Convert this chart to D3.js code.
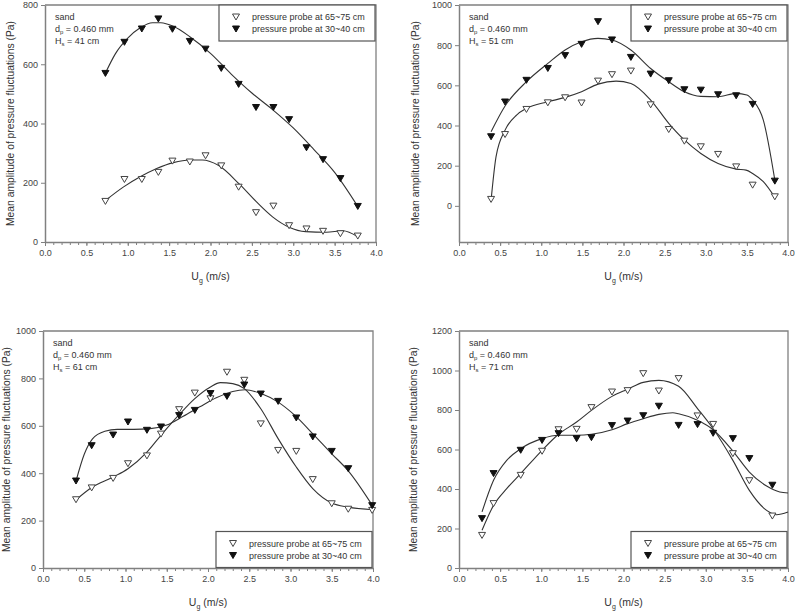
<!DOCTYPE html>
<html>
<head>
<meta charset="UTF-8">
<script src="https://d3js.org/d3.v7.min.js"></script>
<style>
    body { margin: 0; background: #fff; }
    svg { display: block; font-family: Arial, "Liberation Sans", sans-serif; }
</style>
</head>
<body>
<svg id="chart" width="799" height="611"></svg>
<script>
    // Hs = 41 cm
    const ug41 = [0.73, 0.96, 1.17, 1.37, 1.54, 1.75, 1.94, 2.13, 2.34, 2.55, 2.76, 2.95, 3.16, 3.36, 3.57, 3.78];
    const upper41 = [137, 211, 211, 235, 273, 270, 291, 257, 185, 99, 121, 55, 44, 36, 28, 20];
    const lower41 = [569, 674, 719, 753, 718, 677, 651, 586, 532, 454, 454, 413, 318, 278, 214, 120];
    const fitUpper41X = [0.73, 0.95, 1.15, 1.35, 1.55, 1.75, 1.9, 2.1, 2.35, 2.55, 2.75, 2.95, 3.15, 3.4, 3.6, 3.78];
    const fitUpper41Y = [140, 186, 220, 248, 268, 277, 277, 258, 195, 137, 85, 50, 35, 33, 38, 18];
    const fitLower41X = [0.73, 0.85, 1.0, 1.15, 1.3, 1.4, 1.55, 1.75, 2.0, 2.25, 2.5, 2.75, 3.0, 3.25, 3.5, 3.78];
    const fitLower41Y = [570, 635, 688, 723, 740, 740, 728, 693, 637, 567, 503, 447, 385, 312, 235, 120];

    // Hs = 51 cm
    const ug51 = [0.39, 0.56, 0.82, 1.08, 1.29, 1.49, 1.69, 1.86, 2.09, 2.33, 2.55, 2.74, 2.94, 3.15, 3.37, 3.57, 3.84];
    const upper51 = [32, 355, 480, 513, 538, 512, 621, 653, 671, 503, 380, 322, 294, 256, 194, 103, 45];
    const lower51 = [344, 517, 625, 684, 748, 804, 917, 826, 739, 656, 623, 578, 576, 553, 548, 505, 123];
    const fitUpper51X = [0.39, 0.45, 0.56, 0.7, 0.82, 1.08, 1.29, 1.49, 1.69, 1.91, 2.09, 2.33, 2.55, 2.74, 2.94, 3.15, 3.37, 3.49, 3.57, 3.7, 3.84];
    const fitUpper51Y = [28, 244, 377, 452, 485, 518, 540, 568, 606, 621, 609, 527, 411, 328, 261, 211, 183, 178, 161, 120, 42];
    const fitLower51X = [0.39, 0.56, 0.82, 1.08, 1.29, 1.49, 1.69, 1.86, 2.09, 2.33, 2.55, 2.74, 2.94, 3.15, 3.37, 3.5, 3.57, 3.7, 3.84];
    const fitLower51Y = [369, 497, 618, 709, 776, 817, 834, 826, 776, 684, 618, 568, 545, 543, 560, 552, 527, 427, 128];

    // Hs = 61 cm
    const ug61 = [0.40, 0.59, 0.85, 1.03, 1.26, 1.43, 1.65, 1.84, 2.03, 2.23, 2.44, 2.64, 2.85, 3.07, 3.27, 3.50, 3.70, 3.99];
    const upper61 = [288, 338, 378, 440, 473, 565, 668, 738, 714, 826, 792, 608, 496, 492, 373, 271, 248, 243];
    const lower61 = [367, 516, 561, 616, 581, 595, 643, 665, 736, 724, 772, 734, 703, 633, 553, 492, 419, 263];
    const fitUpper61X = [0.40, 0.59, 0.85, 1.03, 1.26, 1.43, 1.65, 1.84, 2.03, 2.15, 2.3, 2.44, 2.64, 2.85, 3.07, 3.27, 3.5, 3.7, 4.0];
    const fitUpper61Y = [288, 340, 384, 419, 489, 560, 647, 715, 764, 782, 778, 757, 672, 546, 426, 335, 274, 257, 246];
    const fitLower61X = [0.40, 0.5, 0.6, 0.75, 0.9, 1.1, 1.3, 1.5, 1.7, 1.9, 2.1, 2.3, 2.45, 2.65, 2.85, 3.05, 3.3, 3.5, 3.7, 4.0];
    const fitLower61Y = [367, 480, 545, 577, 585, 585, 588, 603, 640, 680, 718, 745, 752, 735, 700, 645, 555, 482, 410, 260];

    // Hs = 71 cm
    const ug71 = [0.28, 0.42, 0.75, 1.01, 1.21, 1.43, 1.61, 1.86, 2.05, 2.24, 2.43, 2.67, 2.90, 3.09, 3.33, 3.53, 3.81];
    const upper71 = [165, 326, 469, 591, 700, 702, 812, 891, 898, 984, 896, 959, 770, 727, 579, 442, 263];
    const lower71 = [250, 478, 596, 646, 680, 655, 660, 721, 744, 771, 819, 722, 726, 682, 655, 554, 419];
    const fitUpper71X = [0.28, 0.42, 0.58, 0.75, 1.01, 1.21, 1.43, 1.61, 1.86, 2.05, 2.24, 2.43, 2.67, 2.90, 3.09, 3.33, 3.53, 3.74, 3.86, 4.0];
    const fitUpper71Y = [191, 317, 402, 478, 596, 677, 739, 798, 869, 905, 940, 950, 920, 807, 705, 545, 393, 292, 270, 284];
    const fitLower71X = [0.28, 0.42, 0.58, 0.75, 1.01, 1.21, 1.43, 1.61, 1.86, 2.05, 2.24, 2.43, 2.6, 2.67, 2.90, 3.09, 3.33, 3.53, 3.74, 3.9, 4.0];
    const fitLower71Y = [284, 444, 545, 604, 655, 672, 672, 677, 700, 731, 756, 778, 786, 781, 748, 700, 592, 486, 415, 385, 380];

    const xTicks = [0, 0.5, 1, 1.5, 2, 2.5, 3, 3.5, 4];
    const legendLabels = ["pressure probe at 65~75 cm", "pressure probe at 30~40 cm"];

    const panels = [
        {hs: 41, ug: ug41, upper: upper41, lower: lower41,
         fitU: [fitUpper41X, fitUpper41Y], fitL: [fitLower41X, fitLower41Y],
         yDomain: [0, 800], yTicks: [0, 200, 400, 600, 800],
         x0: 45, x1: 376, y0: 5, y1: 242, titleX: 10, legendTop: true},
        {hs: 51, ug: ug51, upper: upper51, lower: lower51,
         fitU: [fitUpper51X, fitUpper51Y], fitL: [fitLower51X, fitLower51Y],
         yDomain: [-180, 1000], yTicks: [0, 200, 400, 600, 800, 1000],
         x0: 459, x1: 788, y0: 5, y1: 242, titleX: 415, legendTop: true},
        {hs: 61, ug: ug61, upper: upper61, lower: lower61,
         fitU: [fitUpper61X, fitUpper61Y], fitL: [fitLower61X, fitLower61Y],
         yDomain: [0, 1000], yTicks: [0, 200, 400, 600, 800, 1000],
         x0: 43, x1: 373, y0: 331, y1: 568, titleX: 6, legendTop: false},
        {hs: 71, ug: ug71, upper: upper71, lower: lower71,
         fitU: [fitUpper71X, fitUpper71Y], fitL: [fitLower71X, fitLower71Y],
         yDomain: [0, 1200], yTicks: [0, 200, 400, 600, 800, 1000, 1200],
         x0: 459, x1: 788, y0: 331, y1: 568, titleX: 413, legendTop: false}
    ];

    const axisColor = "#808080";
    const textColor = "#333";
    const svg = d3.select("#chart");

    function triangle() {
        const w = 7, h = 6;
        return `M${-w / 2},${-h / 2}L${w / 2},${-h / 2}L0,${h / 2}Z`;
    }

    function drawMarker(g, x, y, filled) {
        g.append("path")
            .attr("d", triangle())
            .attr("transform", `translate(${x},${y})`)
            .attr("fill", filled ? "#111" : "#fff")
            .attr("stroke", filled ? "#111" : "#444")
            .attr("stroke-width", 1);
    }

    function drawPanel(p) {
        const g = svg.append("g");
        const x = d3.scaleLinear().domain([0, 4]).range([p.x0, p.x1]);
        const y = d3.scaleLinear().domain(p.yDomain).range([p.y1, p.y0]);

        // frame top and right
        g.append("path")
            .attr("d", `M${p.x0},${p.y0}H${p.x1}V${p.y1}`)
            .attr("fill", "none")
            .attr("stroke", axisColor)
            .attr("stroke-width", 1.3);

        // minor x ticks
        g.append("g")
            .attr("transform", `translate(0,${p.y1})`)
            .call(d3.axisBottom(x).tickValues(d3.range(0, 41).map(d => d / 10)).tickSize(3).tickFormat(""))
            .call(a => a.select(".domain").remove())
            .call(a => a.selectAll("line").attr("stroke", axisColor));

        const xa = g.append("g")
            .attr("transform", `translate(0,${p.y1})`)
            .call(d3.axisBottom(x).tickValues(xTicks).tickSize(4).tickSizeOuter(0).tickPadding(4).tickFormat(d3.format(".1f")));
        xa.select(".domain").attr("stroke", axisColor).attr("stroke-width", 1.5);
        xa.selectAll("line").attr("stroke", axisColor);
        xa.selectAll("text").attr("font-size", 9).attr("fill", "#444").attr("font-family", null);

        const ya = g.append("g")
            .attr("transform", `translate(${p.x0},0)`)
            .call(d3.axisLeft(y).tickValues(p.yTicks).tickSize(4).tickSizeOuter(0).tickPadding(3).tickFormat(d3.format("d")));
        ya.select(".domain").attr("stroke", axisColor).attr("stroke-width", 1.5);
        ya.selectAll("line").attr("stroke", axisColor);
        ya.selectAll("text").attr("font-size", 9).attr("fill", "#444").attr("font-family", null);

        // axis titles
        const xt = g.append("text")
            .attr("x", (p.x0 + p.x1) / 2)
            .attr("y", p.y1 + 38)
            .attr("text-anchor", "middle")
            .attr("font-size", 10.5)
            .attr("fill", textColor);
        xt.append("tspan").text("U");
        xt.append("tspan").attr("font-size", 7).attr("dy", 2.5).text("g");
        xt.append("tspan").attr("dy", -2.5).text(" (m/s)");

        g.append("text")
            .attr("transform", `translate(${p.titleX},${(p.y0 + p.y1) / 2}) rotate(-90)`)
            .attr("text-anchor", "middle")
            .attr("dy", "0.35em")
            .attr("font-size", 10.3)
            .attr("fill", textColor)
            .text("Mean amplitude of pressure fluctuations (Pa)");

        // fitted curves
        const line = d3.line().x(d => x(d[0])).y(d => y(d[1])).curve(d3.curveMonotoneX);
        [p.fitU, p.fitL].forEach(f => {
            g.append("path")
                .datum(f[0].map((v, i) => [v, f[1][i]]))
                .attr("d", line)
                .attr("fill", "none")
                .attr("stroke", "#333")
                .attr("stroke-width", 1.1);
        });

        // points
        p.ug.forEach((u, i) => drawMarker(g, x(u), y(p.upper[i]), false));
        p.ug.forEach((u, i) => drawMarker(g, x(u), y(p.lower[i]), true));

        // annotation
        const ax = p.x0 + 10;
        const ann = g.append("g").attr("font-size", 9).attr("fill", textColor);
        ann.append("text").attr("x", ax).attr("y", p.y0 + 15).text("sand");
        const t2 = ann.append("text").attr("x", ax).attr("y", p.y0 + 27);
        t2.append("tspan").text("d");
        t2.append("tspan").attr("font-size", 6).attr("dy", 2).text("p");
        t2.append("tspan").attr("dy", -2).text(" = 0.460 mm");
        const t3 = ann.append("text").attr("x", ax).attr("y", p.y0 + 39);
        t3.append("tspan").text("H");
        t3.append("tspan").attr("font-size", 6).attr("dy", 2).text("s");
        t3.append("tspan").attr("dy", -2).text(` = ${p.hs} cm`);

        // legend
        const lx = p.x1 - 157, lw = 156, lh = 36;
        const ly = p.legendTop ? p.y0 : p.y1 - lh - 0.5;
        g.append("rect")
            .attr("x", lx).attr("y", ly)
            .attr("width", lw).attr("height", lh)
            .attr("fill", "#fff")
            .attr("stroke", "#555")
            .attr("stroke-width", 1.2);
        legendLabels.forEach((lab, i) => {
            const cy = ly + 12 + i * 12;
            drawMarker(g, lx + 17, cy, i === 1);
            g.append("text")
                .attr("x", lx + 33)
                .attr("y", cy)
                .attr("dy", "0.35em")
                .attr("font-size", 9)
                .attr("fill", textColor)
                .text(lab);
        });
    }

    panels.forEach(drawPanel);
</script>
</body>
</html>
